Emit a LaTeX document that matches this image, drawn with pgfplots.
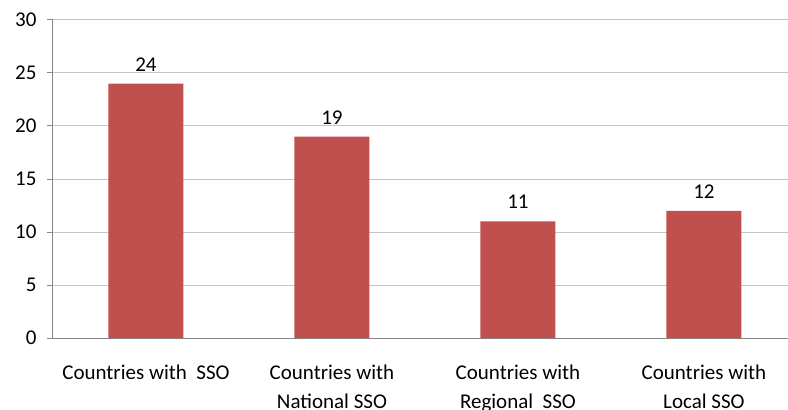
\documentclass[border=0pt]{standalone}
\usepackage{pgfplots}
\pgfplotsset{compat=1.18}
\usepackage{fontspec}
\setmainfont{Carlito}
\definecolor{barred}{HTML}{C0504D}
\definecolor{gridgray}{HTML}{C4C4C4}
\definecolor{axisgray}{HTML}{868686}
\begin{document}
\begin{tikzpicture}[font=\fontsize{21}{29}\selectfont]
\begin{axis}[
  scale only axis, width=735pt, height=318pt,
  xmin=-0.5, xmax=3.452, ymin=0, ymax=30,
  ytick={0,5,...,30},
  xtick={0,1,2,3},
  xticklabels={{Countries with\ \ SSO},{Countries with\\National SSO},{Countries with\\Regional\ \ SSO},{Countries with\\Local SSO}},
  xticklabel style={align=center, yshift=-17pt},
  yticklabel style={xshift=-7pt},
  /pgf/number format/assume math mode=true,
  axis lines*=left,
  axis line style={axisgray, line width=1pt},
  tick align=outside,
  major tick length=6pt,
  ytick style={axisgray, line width=1pt},
  xtick style={draw=none},
  ymajorgrids,
  grid style={gridgray, line width=1pt},
  ybar, bar width=75pt,
  nodes near coords,
  nodes near coords style={anchor=south, yshift=9pt, black},
]
\addplot[fill=barred, draw=none] coordinates {(0,24) (1,19) (2,11) (3,12)};
\end{axis}
\pgfresetboundingbox
\path (current axis.south west) ++(-53pt,-72pt) rectangle ++(788pt,410pt);
\end{tikzpicture}
\end{document}
